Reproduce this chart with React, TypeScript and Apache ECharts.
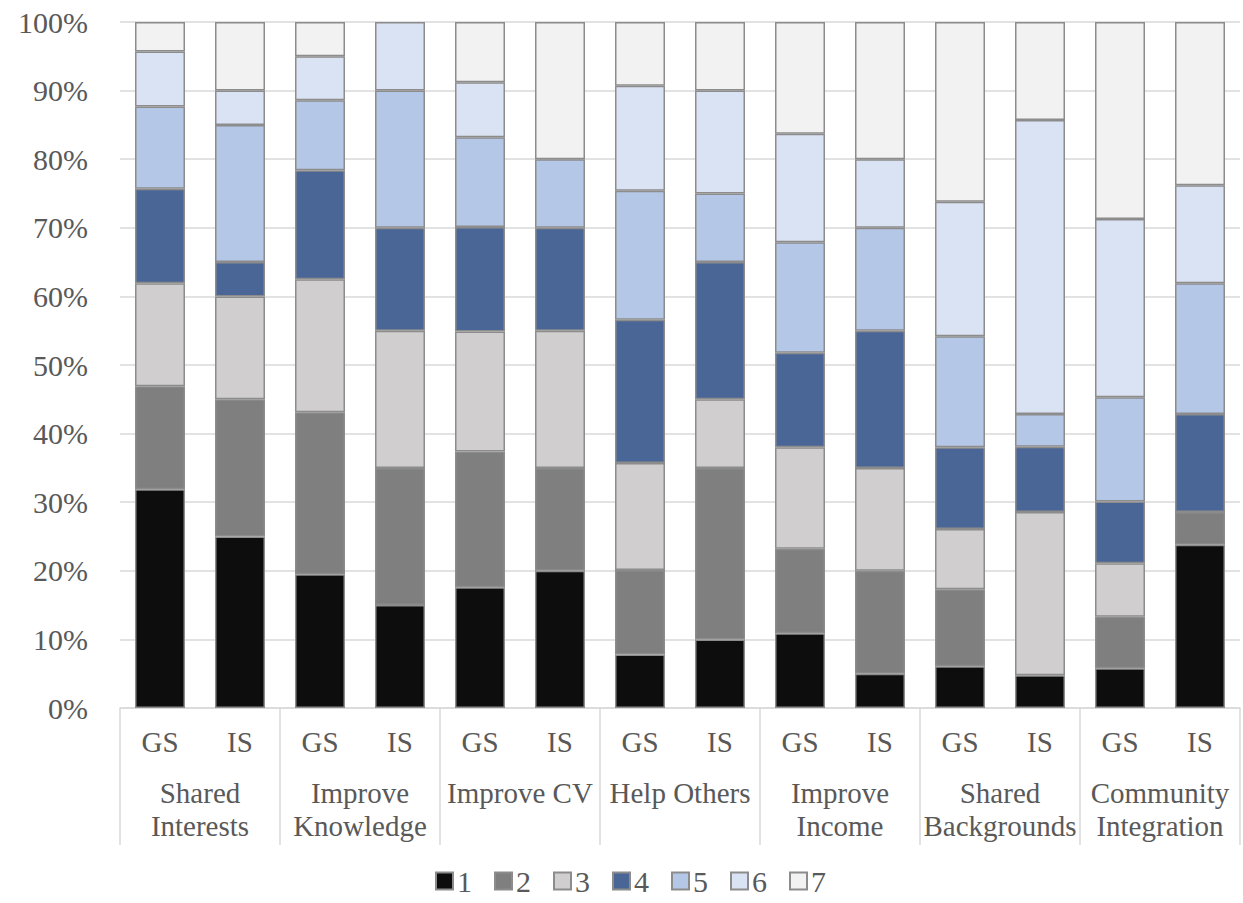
import React, { useEffect, useRef } from "react";
import * as echarts from "echarts";

// Motivation groups and the two sample types shown under each group
const groups = [
  "Shared\nInterests",
  "Improve\nKnowledge",
  "Improve CV",
  "Help Others",
  "Improve\nIncome",
  "Shared\nBackgrounds",
  "Community\nIntegration",
];
const samples = ["GS", "IS"];

// Response levels (1–7) and their share (%) for each bar, in order:
// group 1 GS, group 1 IS, group 2 GS, group 2 IS, ...
const levels = ["1", "2", "3", "4", "5", "6", "7"];
const level1 = [31.9, 25, 19.5, 15, 17.6, 20, 7.8, 10, 10.9, 5, 6.1, 4.76, 5.8, 23.81];
const level2 = [15.0, 20, 23.6, 20, 19.8, 15, 12.3, 25, 12.3, 15, 11.2, 0, 7.5, 4.76];
const level3 = [15.0, 15, 19.4, 20, 17.5, 20, 15.6, 10, 14.8, 15, 8.8, 23.81, 7.8, 0];
const level4 = [13.8, 5, 15.9, 15, 15.2, 15, 20.9, 20, 13.8, 20, 11.9, 9.52, 9.0, 14.29];
const level5 = [12.0, 20, 10.2, 20, 13.1, 10, 18.8, 10, 16.1, 15, 16.2, 4.76, 15.2, 19.05];
const level6 = [8.0, 5, 6.4, 10, 8.0, 0, 15.3, 15, 15.8, 10, 19.6, 42.86, 26.0, 14.29];
const level7 = [4.3, 10, 5.0, 0, 8.8, 20, 9.3, 10, 16.3, 20, 26.2, 14.29, 28.7, 23.8];

const levelValues = [level1, level2, level3, level4, level5, level6, level7];
const levelColors = ["#0d0d0d", "#7f7f7f", "#d0cece", "#4a6696", "#b4c7e7", "#dae3f3", "#f2f2f2"];

const FONT = "'Liberation Serif', 'Times New Roman', serif";
const TEXT = "#595959";
const LINE = "#d9d9d9";

export default function App() {
  const ref = useRef<HTMLDivElement>(null);

  useEffect(() => {
    if (!ref.current) return;
    const chart = echarts.init(ref.current, null, { renderer: "svg" });

    // one category per bar, keyed by group index and sample
    const barKeys: string[] = [];
    groups.forEach((_, gi) => samples.forEach((s) => barKeys.push(`${gi}|${s}`)));

    chart.setOption({
      animation: false,
      textStyle: { fontFamily: FONT },
      grid: { left: 120, right: 3, top: 22, bottom: 195, containLabel: false },
      legend: {
        data: levels,
        left: 430,
        bottom: 2,
        icon: "rect",
        itemWidth: 17,
        itemHeight: 17,
        itemGap: 22,
        textStyle: { fontFamily: FONT, fontSize: 30, color: TEXT, padding: [0, 0, 0, -1] },
      },
      xAxis: [
        {
          type: "category",
          data: barKeys,
          axisLine: { show: true, lineStyle: { color: LINE, width: 1.5 } },
          axisTick: { show: false },
          axisLabel: {
            interval: 0,
            margin: 19,
            fontFamily: FONT,
            fontSize: 29,
            color: TEXT,
            formatter: (v: string) => v.split("|")[1],
          },
        },
        {
          type: "category",
          data: groups,
          position: "bottom",
          gridIndex: 0,
          axisLine: { show: false },
          axisTick: {
            show: true,
            interval: 0,
            length: 137,
            lineStyle: { color: LINE, width: 1.5 },
          },
          axisLabel: {
            interval: 0,
            margin: 68,
            fontFamily: FONT,
            fontSize: 29,
            lineHeight: 33,
            color: TEXT,
          },
        },
      ],
      yAxis: {
        type: "value",
        min: 0,
        max: 100,
        interval: 10,
        axisLine: { show: false },
        axisTick: { show: false },
        splitLine: { lineStyle: { color: LINE, width: 1.5 } },
        axisLabel: {
          margin: 32,
          fontFamily: FONT,
          fontSize: 30,
          color: TEXT,
          formatter: "{value}%",
        },
      },
      series: levels.map((name, i) => ({
        name,
        type: "bar",
        stack: "total",
        xAxisIndex: 0,
        barWidth: 50,
        data: levelValues[i].map((v) => (v === 0 ? null : v)),
        itemStyle: {
          color: levelColors[i],
          borderColor: "#8c8c8c",
          borderWidth: 1.5,
        },
      })),
    });

    return () => chart.dispose();
  }, []);

  return (
    <div
      ref={ref}
      style={{ position: "absolute", left: 0, top: 0, width: 1243, height: 903, background: "#ffffff" }}
    />
  );
}
